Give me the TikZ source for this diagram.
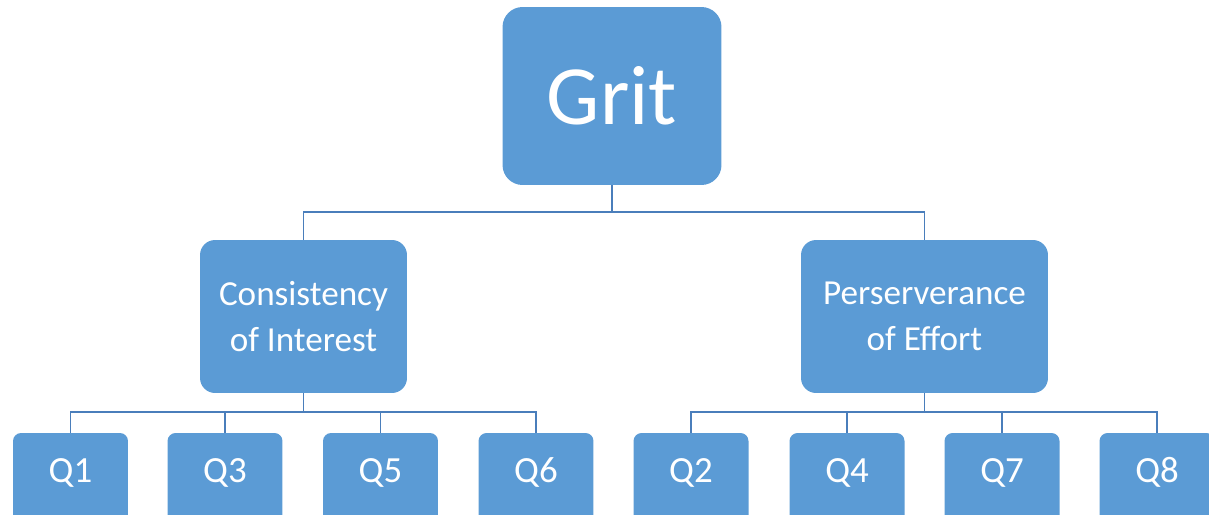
\documentclass[tikz,border=0pt]{standalone}
\usepackage{fontspec}
\setmainfont{Carlito}
\usetikzlibrary{positioning}
\definecolor{boxblue}{HTML}{5B9BD5}
\definecolor{wireblue}{HTML}{4A7EBB}
\tikzset{
  box/.style    = {fill=boxblue, text=white, align=center, inner sep=0pt},
  topbox/.style = {box, minimum width=4.38cm, minimum height=3.56cm,
                   rounded corners=0.4cm, font=\fontsize{48}{56}\selectfont},
  midbox/.style = {box, minimum height=3.06cm, rounded corners=0.3cm,
                   font=\fontsize{20}{26.5}\selectfont},
  qbox/.style   = {box, minimum width=2.3cm, text height=0.98cm, text depth=0.82cm,
                   rounded corners=0.16cm, font=\fontsize{21}{25}\selectfont},
  wire/.style   = {wireblue, line width=1.1pt},
}

\begin{document}
\begin{tikzpicture}[x=0.02cm, y=0.02cm]
  \useasboundingbox (0,0) rectangle (1209,-514);
  \clip (0,0) rectangle (1209,-514);
  % top level
  \node[topbox] (grit) at (612,-96) {Grit};
  % the two factors
  \node[midbox, minimum width=4.14cm] (cons) at (303.5,-316.5) {Consistency\\of Interest};
  \node[midbox, minimum width=4.94cm] (pers) at (924.5,-316.5) {Perserverance\\of Effort};
  \draw[wire] (grit.south) -- ++(0,-27) -| (cons.north);
  \draw[wire] (grit.south) -- ++(0,-27) -| (pers.north);
  % items under each factor
  \foreach \n/\x in {1/70.5, 3/225, 5/380.5, 6/536} {
    \node[qbox] (q\n) at (\x,-478) {Q\n};
    \draw[wire] (cons.south) -- ++(0,-19) -| (q\n.north);
  }
  \foreach \n/\x in {2/691, 4/847, 7/1002, 8/1157} {
    \node[qbox] (q\n) at (\x,-478) {Q\n};
    \draw[wire] (pers.south) -- ++(0,-19) -| (q\n.north);
  }
\end{tikzpicture}
\end{document}
